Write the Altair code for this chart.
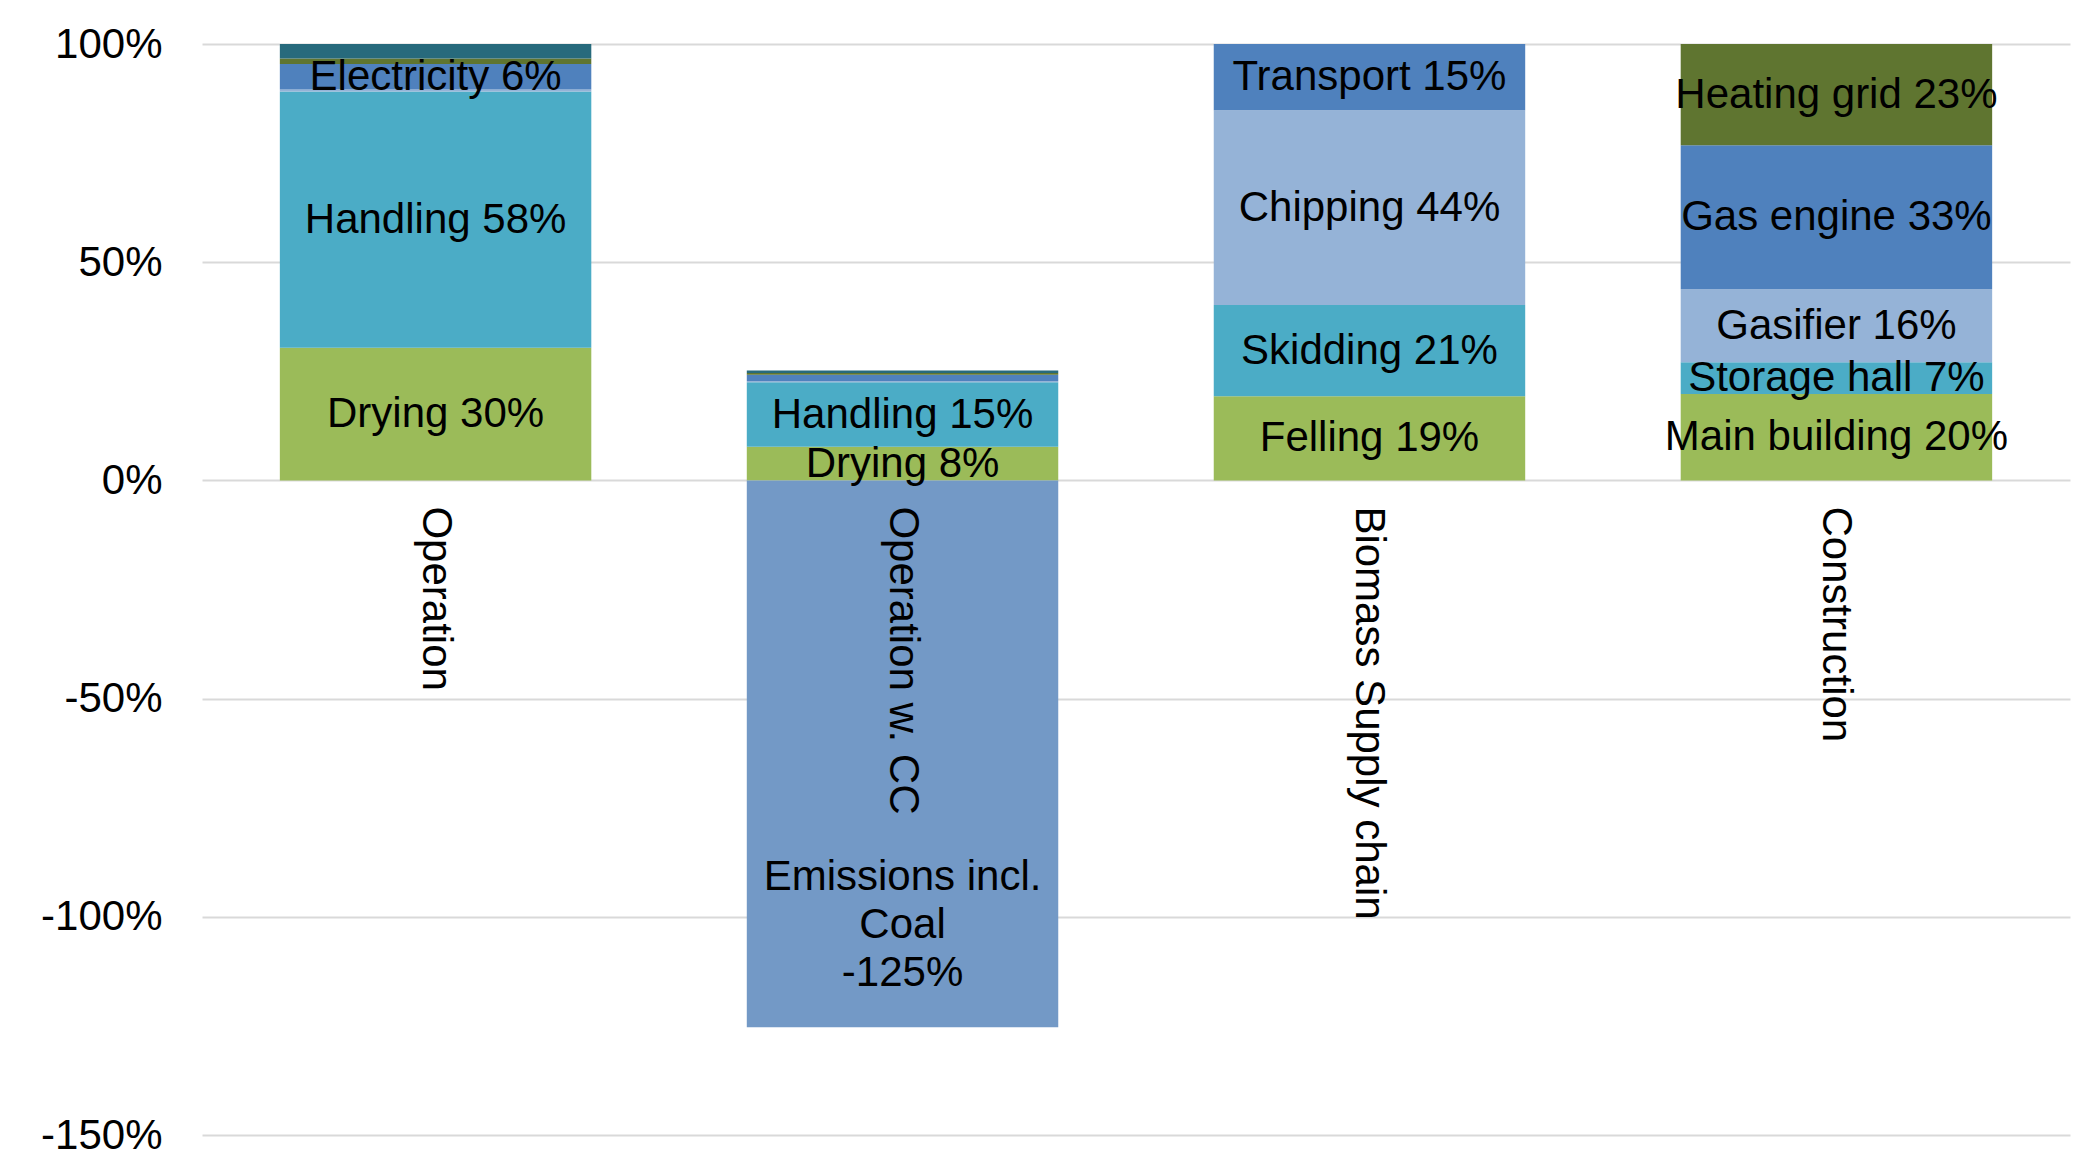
import altair as alt
import pandas as pd

categories = ["Operation", "Operation w. CC", "Biomass Supply chain", "Construction"]

seg_category = (["Operation"] * 6
                + ["Operation w. CC"] * 7
                + ["Biomass Supply chain"] * 4
                + ["Construction"] * 5)
seg_series = (["s1", "s2", "s3", "s4", "s5", "s6"]
              + ["s1", "s2", "s3", "s4", "s5", "s6", "s7"]
              + ["s1", "s2", "s3", "s4"]
              + ["s1", "s2", "s3", "s4", "s5"])
seg_value = ([30.4, 58.7, 0.5, 5.8, 1.3, 3.3]
             + [7.7, 14.8, 0.2, 1.5, 0.4, 0.6, -125.3]
             + [19.3, 20.9, 44.6, 15.2]
             + [19.8, 7.3, 16.7, 33.0, 23.2])
seg_label = (["Drying 30%", "Handling 58%", "", "Electricity 6%", "", ""]
             + ["Drying 8%", "Handling 15%", "", "", "", "", "Emissions incl.\nCoal\n-125%"]
             + ["Felling 19%", "Skidding 21%", "Chipping 44%", "Transport 15%"]
             + ["Main building 20%", "Storage hall 7%", "Gasifier 16%", "Gas engine 33%", "Heating grid 23%"])

series_domain = ["s1", "s2", "s3", "s4", "s5", "s6", "s7"]
series_colors = ["#9BBB59", "#4BACC6", "#95B3D7", "#4F81BD", "#5F7530", "#276A7C", "#7399C6"]

y_ticks = [-150, -100, -50, 0, 50, 100]

FONT = "Liberation Sans"
FS = 42

df = pd.DataFrame({
    "category": seg_category,
    "series": seg_series,
    "value": seg_value,
    "label": seg_label,
})
cat_df = pd.DataFrame({"category": categories})

x_enc = alt.X("category:N", sort=categories,
              scale=alt.Scale(paddingInner=0.333, paddingOuter=0.1667),
              axis=None)

base = (alt.Chart(df)
        .transform_stack(stack="value", as_=["y0", "y1"], groupby=["category"],
                         sort=[alt.SortField("series", order="ascending")])
        .transform_calculate(mid="(datum.y0 + datum.y1) / 2"))

bars = base.mark_bar().encode(
    x=x_enc,
    y=alt.Y("y0:Q",
            scale=alt.Scale(domain=[-150, 100], nice=False, zero=False),
            axis=alt.Axis(values=y_ticks, labelExpr="datum.value + '%'",
                          labelFont=FONT, labelFontSize=FS, labelColor="black",
                          labelPadding=40, ticks=False, domain=False,
                          gridColor="#D9D9D9", gridWidth=2, title=None)),
    y2="y1:Q",
    color=alt.Color("series:N", scale=alt.Scale(domain=series_domain, range=series_colors),
                    legend=None),
)

pos_labels = base.transform_filter("datum.value > 0").mark_text(
    font=FONT, fontSize=FS, color="black", baseline="middle", align="center"
).encode(x=x_enc, y=alt.Y("mid:Q"), text="label:N")

neg_labels = base.transform_filter("datum.value < 0").mark_text(
    font=FONT, fontSize=FS, color="black", baseline="middle", align="center",
    lineBreak="\n", lineHeight=48, dy=123
).encode(x=x_enc, y=alt.Y("mid:Q"), text="label:N")

cat_labels = alt.Chart(cat_df).mark_text(
    font=FONT, fontSize=FS, color="black", angle=90, align="left",
    baseline="middle", dx=26
).encode(x=x_enc, y=alt.datum(0), text="category:N")

chart = (alt.layer(bars, pos_labels, neg_labels, cat_labels)
         .properties(width=1868, height=1091,
                     autosize=alt.AutoSizeParams(type="none"),
                     padding={"left": 202, "top": 44, "right": 23, "bottom": 16},
                     background="white")
         .configure_view(stroke=None))

chart.save("out.html", embed_options={"renderer": "svg", "actions": False})
